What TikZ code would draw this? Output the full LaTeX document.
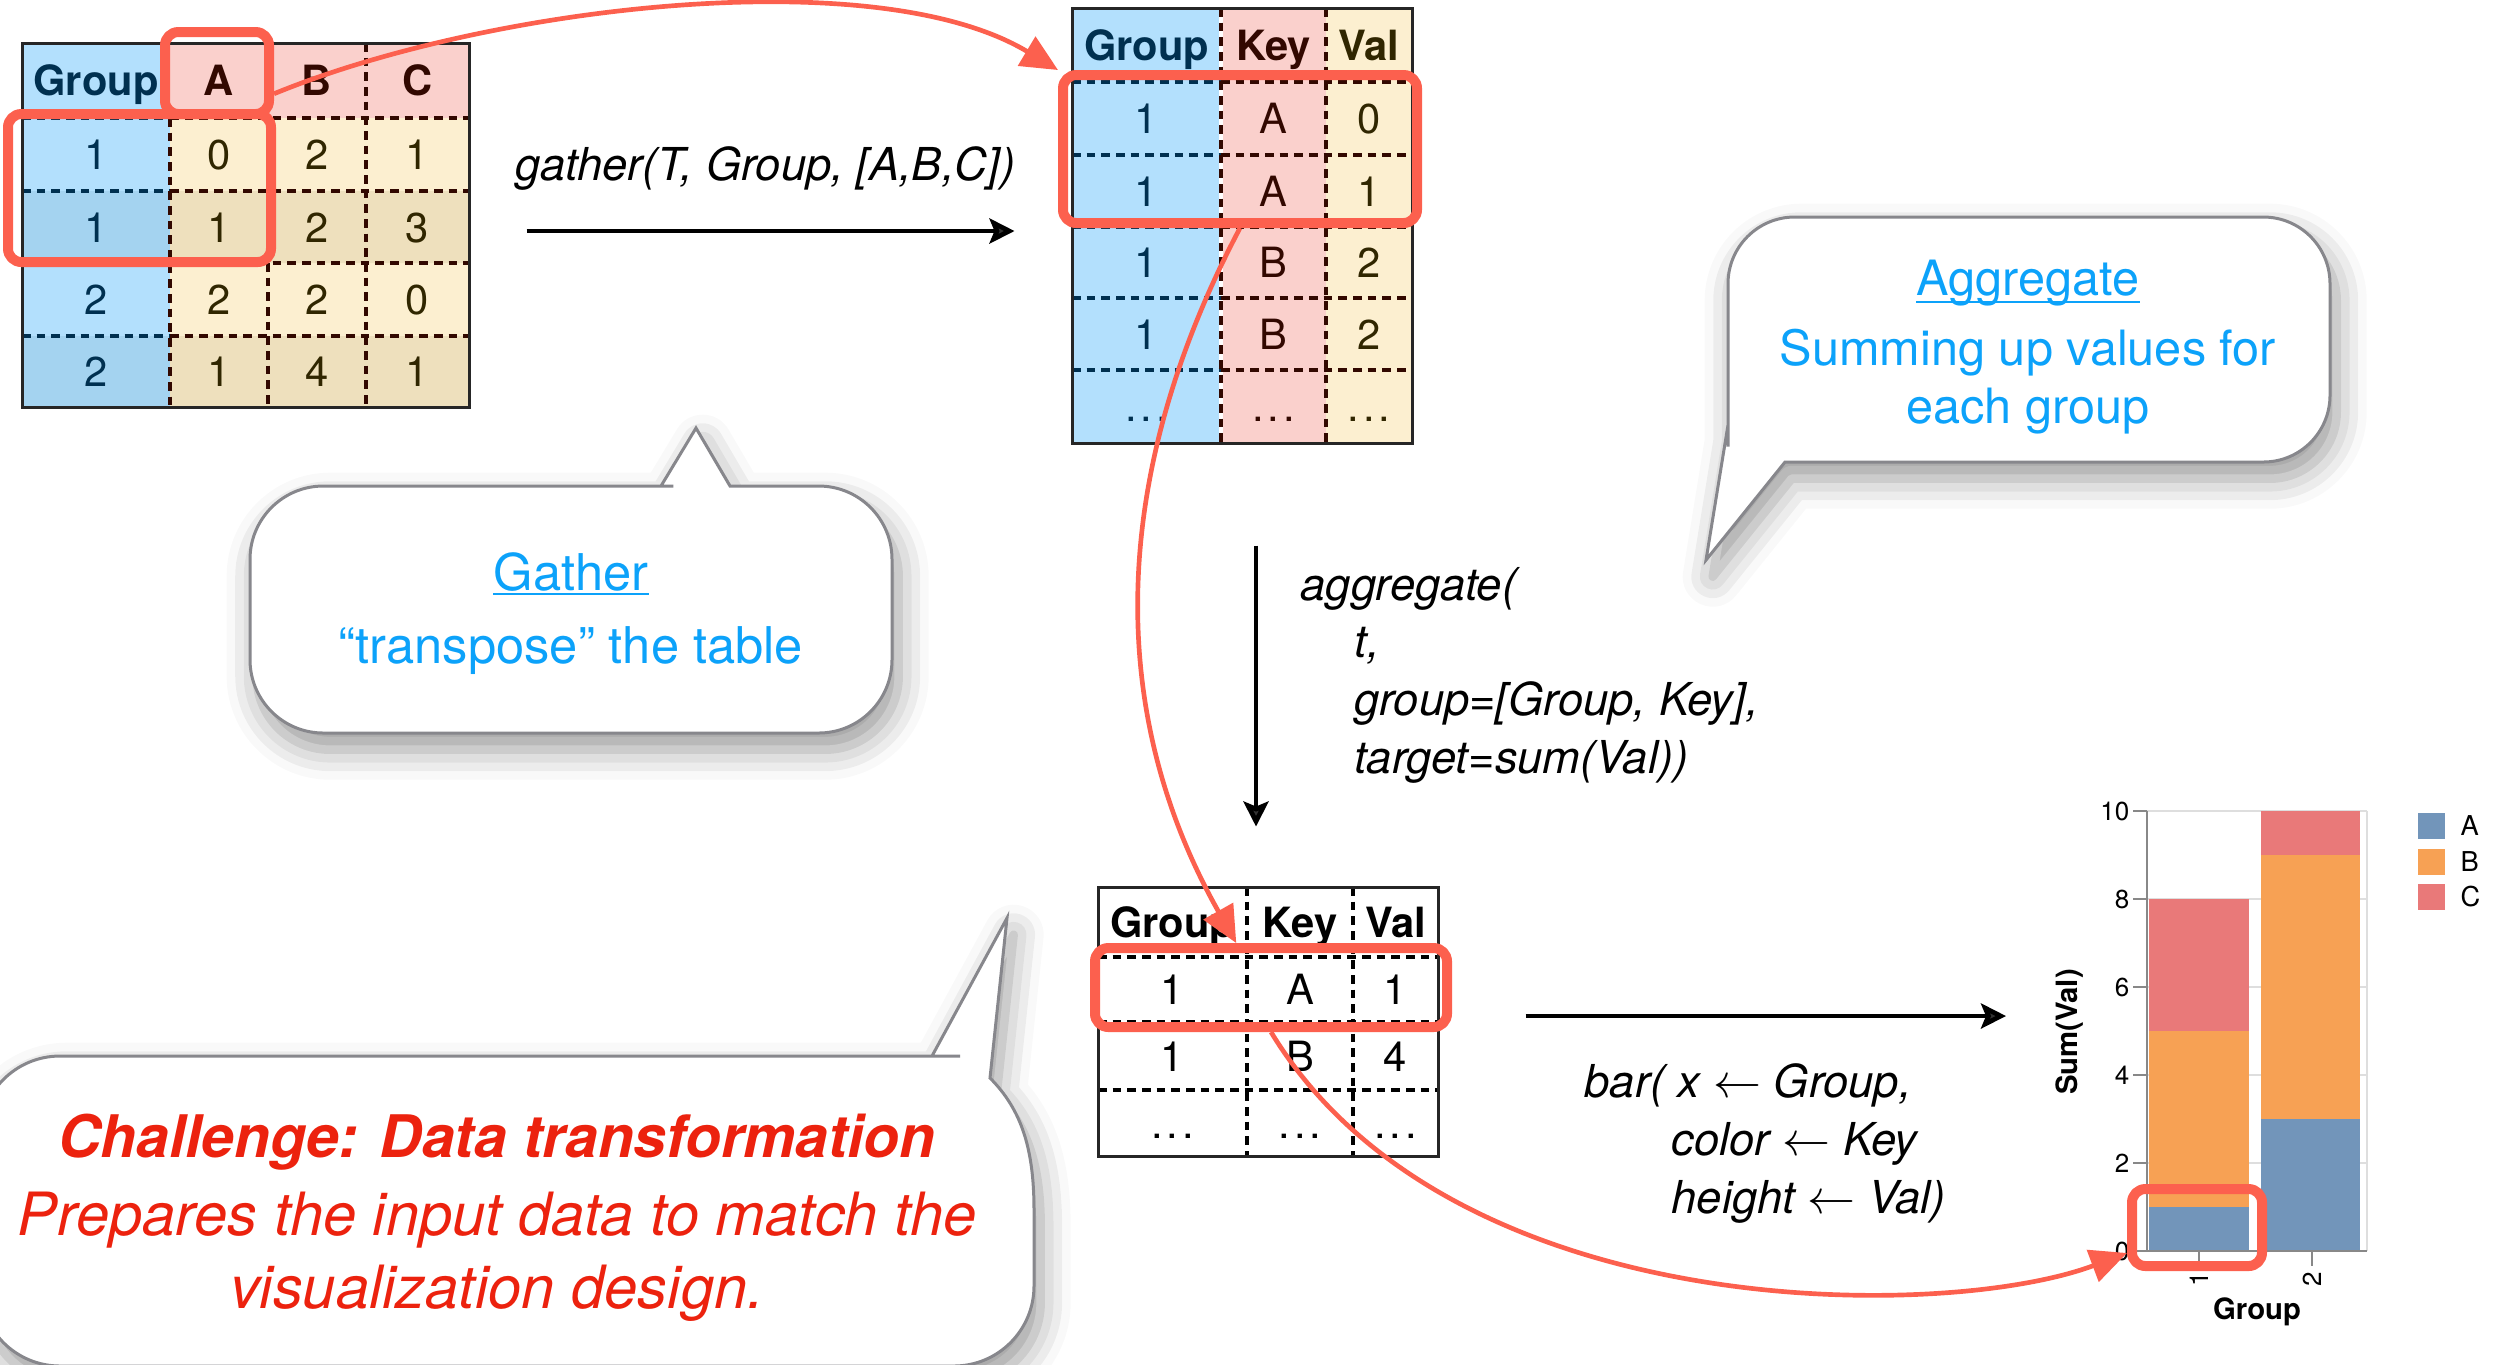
\documentclass[tikz,border=0pt]{standalone}
\usepackage{fontspec}
\setmainfont{TeX Gyre Heros}
\usepackage{tikz}
\usetikzlibrary{arrows.meta,fit,shadows.blur}

\definecolor{grpblue}{RGB}{179,224,253}
\definecolor{grpblueB}{RGB}{164,211,240}
\definecolor{hdrpink}{RGB}{250,208,204}
\definecolor{valcream}{RGB}{252,239,208}
\definecolor{valcreamB}{RGB}{238,224,189}
\definecolor{grpink}{RGB}{0,48,80}
\definecolor{keyink}{RGB}{50,8,0}
\definecolor{valink}{RGB}{48,38,0}
\definecolor{markred}{RGB}{252,96,78}
\definecolor{noteblue}{RGB}{12,162,250}
\definecolor{alertred}{RGB}{236,34,14}
\definecolor{barA}{RGB}{114,149,186}
\definecolor{barB}{RGB}{247,161,84}
\definecolor{barC}{RGB}{233,121,121}
\definecolor{bubbleline}{RGB}{135,135,140}
\definecolor{axisgray}{RGB}{136,136,136}

\newcommand{\gap}{.\kern1.2pt.\kern1.2pt.}

\tikzset{
  cell/.style={inner sep=0pt, text height=9pt, text depth=0pt, font=\fontsize{12.5}{14}\selectfont},
  headcell/.style={cell, font=\fontsize{12.5}{14}\selectfont\bfseries},
  cellsep/.style={line width=1pt, dash pattern=on 2.6pt off 1.8pt},
  tblframe/.style={draw=black!85, line width=0.9pt, inner sep=0pt},
  hilite/.style={draw=markred, line width=3pt, rounded corners=4pt, inner sep=0pt, line join=round},
  redpath/.style={draw=markred, line width=1.4pt, -{Triangle[length=11pt,width=10pt]}},
  flow/.style={line width=1.4pt, -{Stealth[length=7.5pt,width=7.5pt,inset=1.5pt]}},
  callcode/.style={inner sep=0pt, anchor=base west, font=\fontsize{13.6}{16}\selectfont\itshape},
  bubble/.style={fill=white, draw=bubbleline, line width=0.9pt,
    blur shadow={shadow xshift=2pt, shadow yshift=-5pt, shadow blur radius=9pt, shadow opacity=40}},
  note/.style={inner sep=0pt, anchor=base, text=noteblue, font=\fontsize{15.2}{18}\selectfont},
  alert/.style={inner sep=0pt, anchor=base, text=alertred, font=\fontsize{17.9}{20}\selectfont\itshape},
  ticklbl/.style={inner sep=0pt, font=\fontsize{7.8}{9}\selectfont},
  axtitle/.style={inner sep=0pt, font=\fontsize{8.8}{10}\selectfont\bfseries},
  axisline/.style={draw=axisgray, line width=0.8pt},
}

\begin{document}
\begin{tikzpicture}[x=0.3pt,y=0.3pt,yscale=-1]
\useasboundingbox (0,0) rectangle (2496,1364);

%Callouts
\draw[bubble] (696,428) -- (730,486) -- (800,486) [rounded corners=22pt] -- (892,486) -- (892,733) -- (250,733) -- (250,486) -- (600,486) [sharp corners] -- (661,486) -- cycle;
\draw[bubble] (1706,560) -- (1785,462) -- (1850,462) [rounded corners=20pt] -- (2330,462) -- (2330,217) -- (1728,217) -- (1728,380) [sharp corners] -- (1728,425) -- cycle;
\draw[bubble] (1007,918) -- (990,1078) .. controls (1022,1110) and (1034,1150) .. (1034,1210) [rounded corners=24pt] -- (1034,1366) -- (-20,1366) -- (-20,1056) -- (880,1056) [sharp corners] -- (932,1056) -- cycle;

%Wide table
\fill[grpblue] (22,43) rectangle (170,191) (22,263) rectangle (170,336);
\fill[grpblueB] (22,191) rectangle (170,263) (22,336) rectangle (170,407);
\fill[hdrpink] (170,43) rectangle (469,118);
\fill[valcream] (170,118) rectangle (469,191) (170,263) rectangle (469,336);
\fill[valcreamB] (170,191) rectangle (469,263) (170,336) rectangle (469,407);
\foreach \y in {118,191,263,336} {
  \draw[cellsep,grpink] (22,\y) -- (170,\y);
  \draw[cellsep,keyink] (170,\y) -- (469,\y);
}
\draw[cellsep,keyink] (170,118) -- (170,407);
\foreach \x in {268,366} \draw[cellsep,keyink] (\x,43) -- (\x,407);
\node[tblframe, fit={(22,43) (469,407)}] (tabWide) {};

% Text Node
\node[headcell,text=grpink] (wHg) at (96,80.5) {Group};
\foreach \c/\x in {A/219,B/317,C/417.5} \node[headcell,text=keyink] (wH\c) at (\x,80.5) {\c};
\foreach \r/\y/\g/\a/\b/\c in {1/154.5/1/0/2/1, 2/227/1/1/2/3, 3/299.5/2/2/2/0, 4/371.5/2/1/4/1} {
  \node[cell,text=grpink] (w\r-g) at (96,\y) {\g};
  \node[cell,text=valink] (w\r-a) at (219,\y) {\a};
  \node[cell,text=valink] (w\r-b) at (317,\y) {\b};
  \node[cell,text=valink] (w\r-c) at (417.5,\y) {\c};
}

%Long table
\fill[grpblue] (1072,8) rectangle (1219,443);
\fill[hdrpink] (1223,8) rectangle (1326,443);
\fill[valcream] (1326,8) rectangle (1412,443);
\foreach \y in {82,155,227,298,370} {
  \draw[cellsep,grpink] (1072,\y) -- (1221,\y);
  \draw[cellsep,keyink] (1221,\y) -- (1412,\y);
}
\foreach \x in {1221,1326} \draw[cellsep,keyink] (\x,8) -- (\x,443);
\node[tblframe, fit={(1072,8) (1412,443)}] (tabLong) {};

% Text Node
\node[headcell,text=grpink] (lHg) at (1146.5,45) {Group};
\node[headcell,text=keyink] (lHk) at (1273.5,45) {Key};
\node[headcell,text=valink] (lHv) at (1369,45) {Val};
\foreach \r/\y/\g/\k/\v in {1/118.5/1/A/0, 2/191/1/A/1, 3/262.5/1/B/2, 4/334/1/B/2, 5/406.5/\gap/\gap/\gap} {
  \node[cell,text=grpink] (l\r-g) at (1146.5,\y) {\g};
  \node[cell,text=keyink] (l\r-k) at (1273.5,\y) {\k};
  \node[cell,text=valink] (l\r-v) at (1369,\y) {\v};
}

%Aggregated table
\fill[white] (1098,887) rectangle (1438,1156);
\foreach \y in {957,1022,1090} \draw[cellsep] (1098,\y) -- (1438,\y);
\foreach \x in {1247,1353} \draw[cellsep] (\x,887) -- (\x,1156);
\node[tblframe, fit={(1098,887) (1438,1156)}] (tabAgg) {};

% Text Node
\node[headcell] (aHg) at (1172.5,922) {Group};
\node[headcell] (aHk) at (1300,922) {Key};
\node[headcell] (aHv) at (1395.5,922) {Val};
\foreach \r/\y/\g/\k/\v in {1/989.5/1/A/1, 2/1056/1/B/4, 3/1123/\gap/\gap/\gap} {
  \node[cell] (a\r-g) at (1172.5,\y) {\g};
  \node[cell] (a\r-k) at (1300,\y) {\k};
  \node[cell] (a\r-v) at (1395.5,\y) {\v};
}

%Bar chart
\coordinate (chartO) at (2147,1251);
\foreach \v in {2,4,6,8,10} \draw[black!13, line width=0.5pt] (2147,1251-44*\v) -- (2367,1251-44*\v);
\draw[black!13, line width=0.5pt] (2367,811) -- (2367,1251);
\fill[barA] (2149,1251) rectangle (2249,1207);
\fill[barB] (2149,1207) rectangle (2249,1031);
\fill[barC] (2149,1031) rectangle (2249,899);
\fill[barA] (2261,1251) rectangle (2360,1119);
\fill[barB] (2261,1119) rectangle (2360,855);
\fill[barC] (2261,855) rectangle (2360,811);
\draw[axisline] (2147,811) -- (chartO) -- (2367,1251);
\foreach \v in {0,2,4,6,8,10} {
  \draw[axisline] (2133,1251-44*\v) -- (2147,1251-44*\v);
  \node[ticklbl, anchor=east] (yt\v) at (2130,1251-44*\v) {\v};
}
\foreach \g/\x in {1/2199,2/2312} {
  \draw[axisline] (\x,1251) -- (\x,1266);
  \node[ticklbl, rotate=90, anchor=east] (xt\g) at (\x,1271) {\g};
}
\node[axtitle, rotate=90] (sumTitle) at (2070,1032) {Sum(Val)};
\node[axtitle] (grpTitle) at (2257,1312) {Group};
\foreach \k/\y in {A/826,B/862,C/897} {
  \fill[bar\k] (2418,\y-13) rectangle (2445,\y+13);
  \node[ticklbl, anchor=west, font=\fontsize{8.2}{9}\selectfont] (lg\k) at (2460,\y) {\k};
}

%Highlights
\node[hilite, fit={(165,32) (269,114)}] (markHead) {};
\node[hilite, fit={(8,114) (271,262)}] (markRows) {};
\node[hilite, fit={(1063,75) (1417,223)}] (markLong) {};
\node[hilite, fit={(1095,948) (1447,1027)}] (markAgg) {};
\node[hilite, fit={(2132,1189) (2262,1266)}] (markBar) {};

%Curve Lines
\draw[redpath] (markHead.-20) .. controls +(212,-87) and +(-183,-110) .. (markLong.north west);
\draw[redpath] (markLong.south) .. controls +(-120,227) and +(-140,-248) .. (markAgg.128);
\draw[redpath] (markAgg.south) .. controls +(179,295) and +(-181,68) .. (markBar.200);

%Straight Lines
\draw[flow, shorten <=16.8pt, shorten >=16.8pt] ([yshift=1.8pt]tabWide.east) -- ([yshift=1.8pt]tabWide.east -| tabLong.west);
\draw[flow, shorten <=30.3pt, shorten >=17.7pt] ([xshift=4.2pt]tabLong.south) -- ([xshift=4.2pt]tabLong.south |- tabAgg.north);
\draw[flow, shorten <=25.8pt, shorten >=42.3pt] ([yshift=-1.65pt]tabAgg.east) -- ([yshift=-1.65pt]tabAgg.east -| chartO);

% Text Node
\node[callcode] (gatherLbl) at (515,180) {gather(T, Group, [A,B,C])};
\node[callcode] (aggL1) at (1300,600) {aggregate(};
\node[callcode] (aggL2) at (1354,657) {t,};
\node[callcode] (aggL3) at (1354,715) {group=[Group, Key],};
\node[callcode] (aggL4) at (1354,773) {target=sum(Val))};
\node[callcode] (barL1) at (1584,1097) {bar( x $\leftarrow$ Group,};
\node[callcode] (barL2) at (1671,1155) {color $\leftarrow$ Key};
\node[callcode] (barL3) at (1671,1213) {height $\leftarrow$ Val)};

% Text Node
\node[note] (gatherHd) at (571,590) {Gather};
\draw[noteblue, line width=0.6pt] ([yshift=1.3pt]gatherHd.base west) -- ([yshift=1.3pt]gatherHd.base east);
\node[note] (gatherTx) at (571,663) {``transpose'' the table};
\node[note, font=\fontsize{14.6}{18}\selectfont] (aggHd) at (2028,295) {Aggregate};
\draw[noteblue, line width=0.6pt] ([yshift=2pt]aggHd.base west) -- ([yshift=2pt]aggHd.base east);
\node[note, font=\fontsize{14.6}{18}\selectfont] (aggTx1) at (2028,365) {Summing up values for};
\node[note, font=\fontsize{14.6}{18}\selectfont] (aggTx2) at (2028,423) {each group};
\node[alert, font=\fontsize{17.6}{20}\selectfont\bfseries\itshape] (chalHd) at (497,1157) {Challenge: Data transformation};
\node[alert] (chalTx1) at (497,1235) {Prepares the input data to match the};
\node[alert] (chalTx2) at (497,1308) {visualization design.};
\end{tikzpicture}
\end{document}
